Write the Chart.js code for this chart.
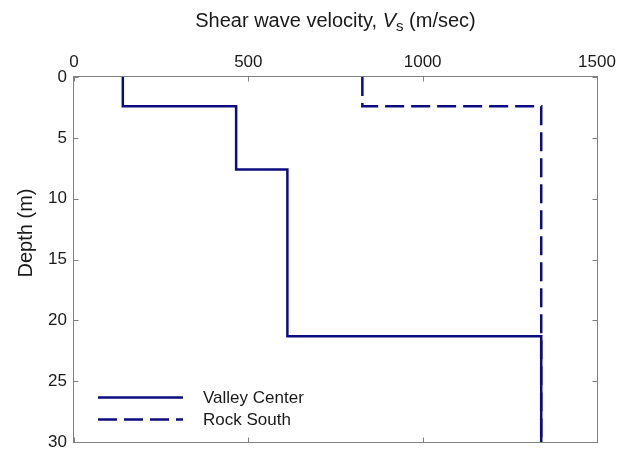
<!DOCTYPE html>
<html>
<head>
<meta charset="utf-8">
<script src="https://cdn.jsdelivr.net/npm/chart.js@4.4.0/dist/chart.umd.min.js"></script>
<style>
    html, body { margin: 0; padding: 0; background: #fff; }
    canvas { display: block; }
</style>
</head>
<body>
<canvas id="grafico-perfil" width="627" height="449"></canvas>
<script>
// Perfiles de Vs: profundidad del techo de cada capa (m) y velocidad (m/s)
const valleyTops = [0, 2.4, 7.6, 21.3];
const valleyVs = [140, 465, 612, 1340];
const rockTops = [0, 2.4];
const rockVs = [827, 1340];
const maxDepth = 30;
const xTicks = [0, 500, 1000, 1500];
const yTicks = [0, 5, 10, 15, 20, 25, 30];
const seriesNames = ['Valley Center', 'Rock South'];

const FUENTE = '"Liberation Sans", Arial, sans-serif';
const AZUL = '#0c0c80';
const GRIS = '#808080';
const TEXTO = '#1a1a1a';

// Convierte capas en puntos escalonados (cada capa: techo y base a la misma velocidad)
function perfil(tops, vs) {
    const pts = [];
    for (let i = 0; i < tops.length; i++) {
        const base = i + 1 < tops.length ? tops[i + 1] : maxDepth;
        pts.push({ x: vs[i], y: tops[i] });
        pts.push({ x: vs[i], y: base });
    }
    return pts;
}

// Marco, ticks hacia dentro, títulos y leyenda dentro del área
const pluginMarco = {
    id: 'marco',
    afterDraw: (chart) => {
        const ctx = chart.ctx;
        const a = chart.chartArea;
        const xs = chart.scales.x;
        const ys = chart.scales.y;
        const L = Math.round(a.left) - 0.5, R = Math.round(a.right) + 0.5;
        const T = Math.round(a.top) - 0.5, B = Math.round(a.bottom) + 0.5;

        ctx.save();
        ctx.strokeStyle = GRIS;
        ctx.lineWidth = 1;
        ctx.setLineDash([]);
        ctx.strokeRect(L, T, R - L, B - T);

        ctx.beginPath();
        xTicks.forEach(v => {
            const px = Math.round(xs.getPixelForValue(v)) + 0.5;
            ctx.moveTo(px, T); ctx.lineTo(px, T + 5);
            ctx.moveTo(px, B); ctx.lineTo(px, B - 5);
        });
        yTicks.forEach(v => {
            const py = Math.round(ys.getPixelForValue(v)) + 0.5;
            ctx.moveTo(L, py); ctx.lineTo(L + 5, py);
            ctx.moveTo(R, py); ctx.lineTo(R - 5, py);
        });
        ctx.stroke();

        // Título del eje X: "Shear wave velocity, Vs (m/sec)" con V cursiva y s subíndice
        const partes = [
            { t: 'Shear wave velocity, ', f: '20px ' + FUENTE, dy: 0 },
            { t: 'V', f: 'italic 20px ' + FUENTE, dy: 0 },
            { t: 's', f: '15px ' + FUENTE, dy: 4 },
            { t: ' (m/sec)', f: '20px ' + FUENTE, dy: 0 }
        ];
        let ancho = 0;
        partes.forEach(p => { ctx.font = p.f; ancho += ctx.measureText(p.t).width; });
        let cx = (a.left + a.right) / 2 - ancho / 2;
        ctx.fillStyle = TEXTO;
        ctx.textAlign = 'left';
        ctx.textBaseline = 'alphabetic';
        partes.forEach(p => {
            ctx.font = p.f;
            ctx.fillText(p.t, cx, 27 + p.dy);
            cx += ctx.measureText(p.t).width;
        });

        // Título del eje Y
        ctx.save();
        ctx.translate(32, 233);
        ctx.rotate(-Math.PI / 2);
        ctx.font = '20px ' + FUENTE;
        ctx.textAlign = 'center';
        ctx.fillText('Depth (m)', 0, 0);
        ctx.restore();

        // Leyenda
        const filas = [397, 419];
        chart.data.datasets.forEach((ds, i) => {
            const y = filas[i] + 0.5;
            ctx.strokeStyle = ds.borderColor;
            ctx.lineWidth = ds.borderWidth;
            ctx.setLineDash(ds.borderDash || []);
            ctx.beginPath();
            ctx.moveTo(98, y);
            ctx.lineTo(183, y);
            ctx.stroke();
            ctx.fillStyle = TEXTO;
            ctx.font = '17px ' + FUENTE;
            ctx.textBaseline = 'middle';
            ctx.fillText(ds.label, 203, y + 1);
        });
        ctx.restore();
    }
};

const ctx = document.getElementById('grafico-perfil').getContext('2d');
const grafico = new Chart(ctx, {
    type: 'scatter',
    data: {
        datasets: [
            {
                label: seriesNames[0],
                data: perfil(valleyTops, valleyVs),
                showLine: true,
                borderColor: AZUL,
                borderWidth: 2.5,
                pointRadius: 0,
                fill: false
            },
            {
                label: seriesNames[1],
                data: perfil(rockTops, rockVs),
                showLine: true,
                borderColor: AZUL,
                borderWidth: 2.5,
                borderDash: [19, 7],
                pointRadius: 0,
                fill: false
            }
        ]
    },
    options: {
        responsive: false,
        animation: false,
        devicePixelRatio: 1,
        layout: { padding: { left: 0, right: 30, top: 0, bottom: 7 } },
        plugins: {
            legend: { display: false },
            tooltip: { enabled: false }
        },
        scales: {
            x: {
                type: 'linear',
                position: 'top',
                min: 0,
                max: 1500,
                afterBuildTicks: (s) => { s.ticks = xTicks.map(v => ({ value: v })); },
                afterFit: (s) => { s.height = 77; s.paddingLeft = 0; s.paddingRight = 0; },
                grid: { display: false, drawTicks: false },
                border: { display: false },
                ticks: {
                    color: TEXTO,
                    font: { size: 17, family: FUENTE },
                    padding: 4,
                    maxRotation: 0,
                    callback: (v) => String(v)
                }
            },
            y: {
                type: 'linear',
                reverse: true,
                min: 0,
                max: maxDepth,
                afterBuildTicks: (s) => { s.ticks = yTicks.map(v => ({ value: v })); },
                afterFit: (s) => { s.width = 74; s.paddingTop = 0; s.paddingBottom = 0; },
                grid: { display: false, drawTicks: false },
                border: { display: false },
                ticks: {
                    color: TEXTO,
                    font: { size: 17, family: FUENTE },
                    padding: 7,
                    callback: (v) => String(v)
                }
            }
        }
    },
    plugins: [pluginMarco]
});
</script>
</body>
</html>
